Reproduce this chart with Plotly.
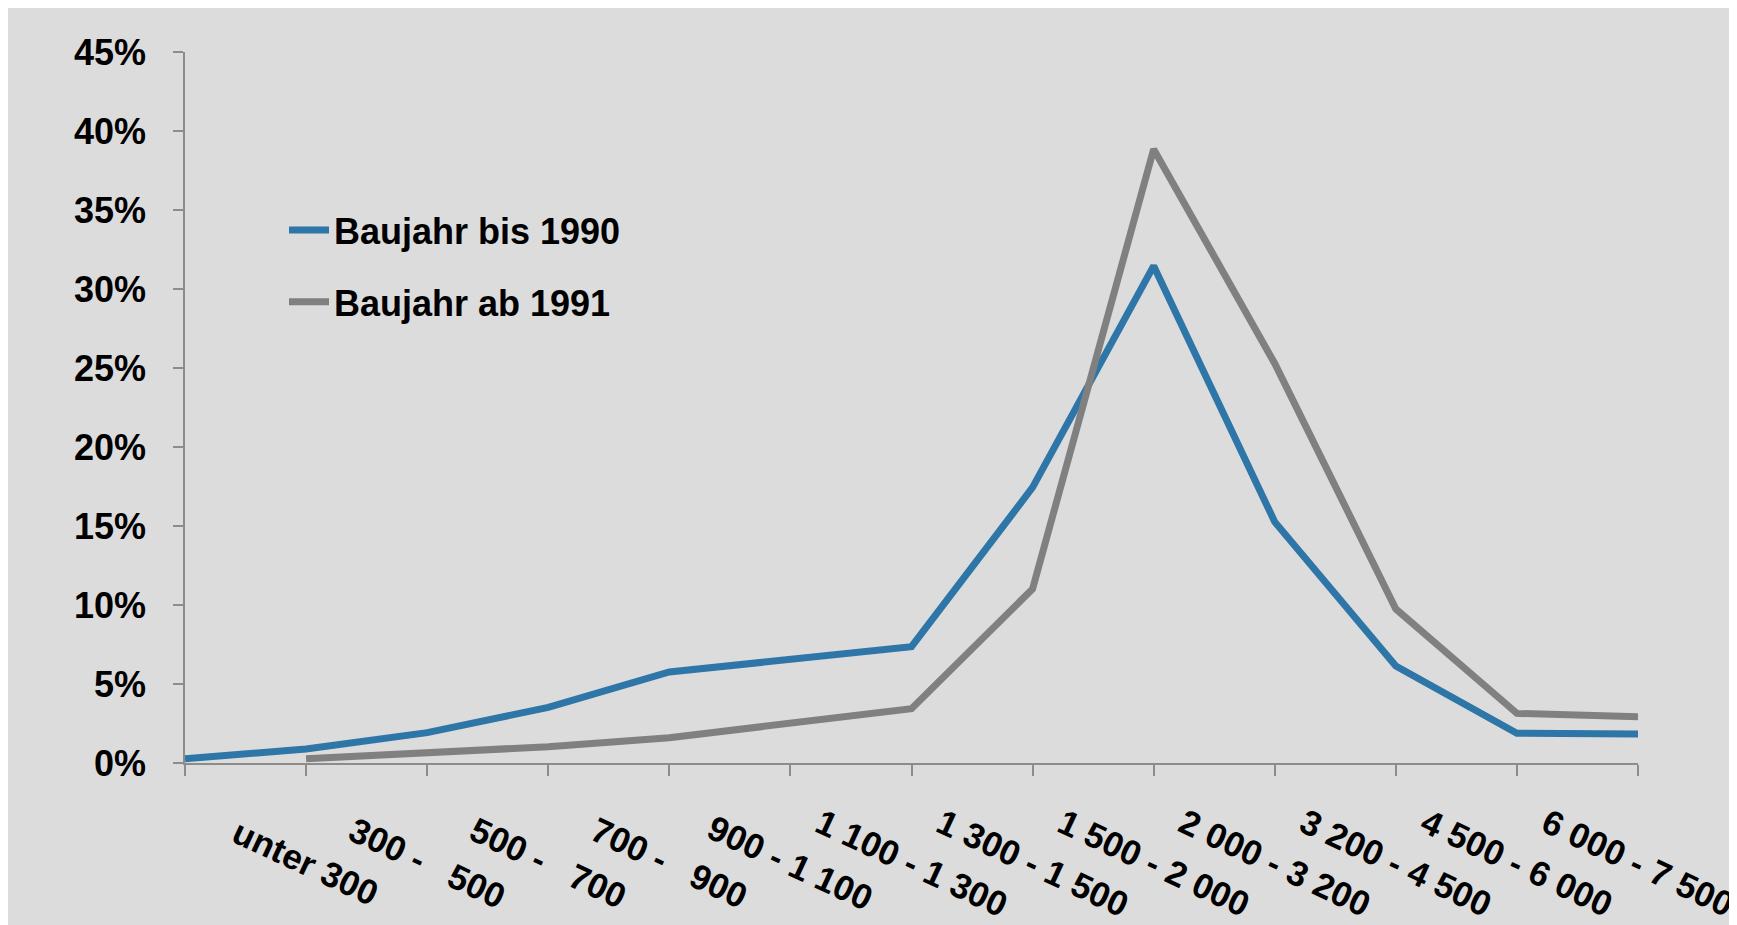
import plotly.graph_objects as go

# ---- data ----
categories = ["", "unter 300", "300 -   500", "500 -   700", "700 -   900", "900 - 1 100",
              "1 100 - 1 300", "1 300 - 1 500", "1 500 - 2 000", "2 000 - 3 200",
              "3 200 - 4 500", "4 500 - 6 000", "6 000 - 7 500"]
baujahr_bis_1990 = [0.27, 0.89, 1.92, 3.52, 5.76, 6.56, 7.36, 17.44, 31.46, 15.26, 6.14, 1.88, 1.84]
baujahr_ab_1991 = [None, 0.27, 0.61, 1.03, 1.60, 2.51, 3.44, 11.02, 38.85, 25.29, 9.75, 3.14, 2.93]
series_names = ["Baujahr bis 1990", "Baujahr ab 1991"]
y_ticks = [0, 5, 10, 15, 20, 25, 30, 35, 40, 45]
y_ticktext = [f"{v}%" for v in y_ticks]

BLUE = "#2E75A8"
GRAY = "#808080"
BG = "#DCDCDC"
AX = "#8C8C8C"
FONT = dict(family="Liberation Sans, Arial, sans-serif", size=36, color="black", weight="bold")
XFONT = dict(FONT, size=35)

W, H = 1737, 925
OFF = 8  # page offset of the figure (body margin)
ML, MR, MT, MB = 185 - OFF, 1737 - (1638 - OFF), 52 - OFF, 925 - (763 - OFF)
PW, PH = W - ML - MR, H - MT - MB

def page_x(px):
    return (px - OFF - ML) / PW

def page_y(py):
    return (MT + PH - (py - OFF)) / PH

fig = go.Figure()
fig.add_trace(go.Scatter(x=categories, y=baujahr_bis_1990, mode="lines", name=series_names[0],
                         line=dict(color=BLUE, width=7), legendgroup="a"))
fig.add_trace(go.Scatter(x=categories, y=baujahr_ab_1991, mode="lines", name=series_names[1],
                         line=dict(color=GRAY, width=7), legendgroup="b"))

# rotated category labels centred on the ticks
for c in categories:
    if c == "":
        continue
    fig.add_annotation(x=c, xref="x", y=page_y(862), yref="paper",
                       text=c, showarrow=False, textangle=25,
                       xanchor="center", yanchor="middle", font=XFONT)

fig.update_layout(
    width=W, height=H,
    margin=dict(l=ML, r=MR, t=MT, b=MB),
    paper_bgcolor=BG, plot_bgcolor=BG,
    font=FONT,
    showlegend=True,
    legend=dict(x=page_x(284), y=page_y(200), xanchor="left", yanchor="top",
                bgcolor="rgba(0,0,0,0)", font=FONT, tracegroupgap=22, itemwidth=40),
)
fig.update_xaxes(type="category", categoryorder="array", categoryarray=categories,
                 range=[0, len(categories) - 1], showgrid=False, zeroline=False,
                 showline=True, linecolor=AX, linewidth=1.5,
                 ticks="outside", ticklen=11, tickcolor=AX, tickwidth=1.5,
                 showticklabels=False)
fig.update_yaxes(range=[0, 45], tickvals=y_ticks, ticktext=y_ticktext, showgrid=False, zeroline=False,
                 showline=True, linecolor=AX, linewidth=1.5,
                 ticks="outside", ticklen=10, tickcolor=AX, tickwidth=1.5,
                 tickfont=FONT, ticklabelstandoff=20)

fig.write_html("out.html")
